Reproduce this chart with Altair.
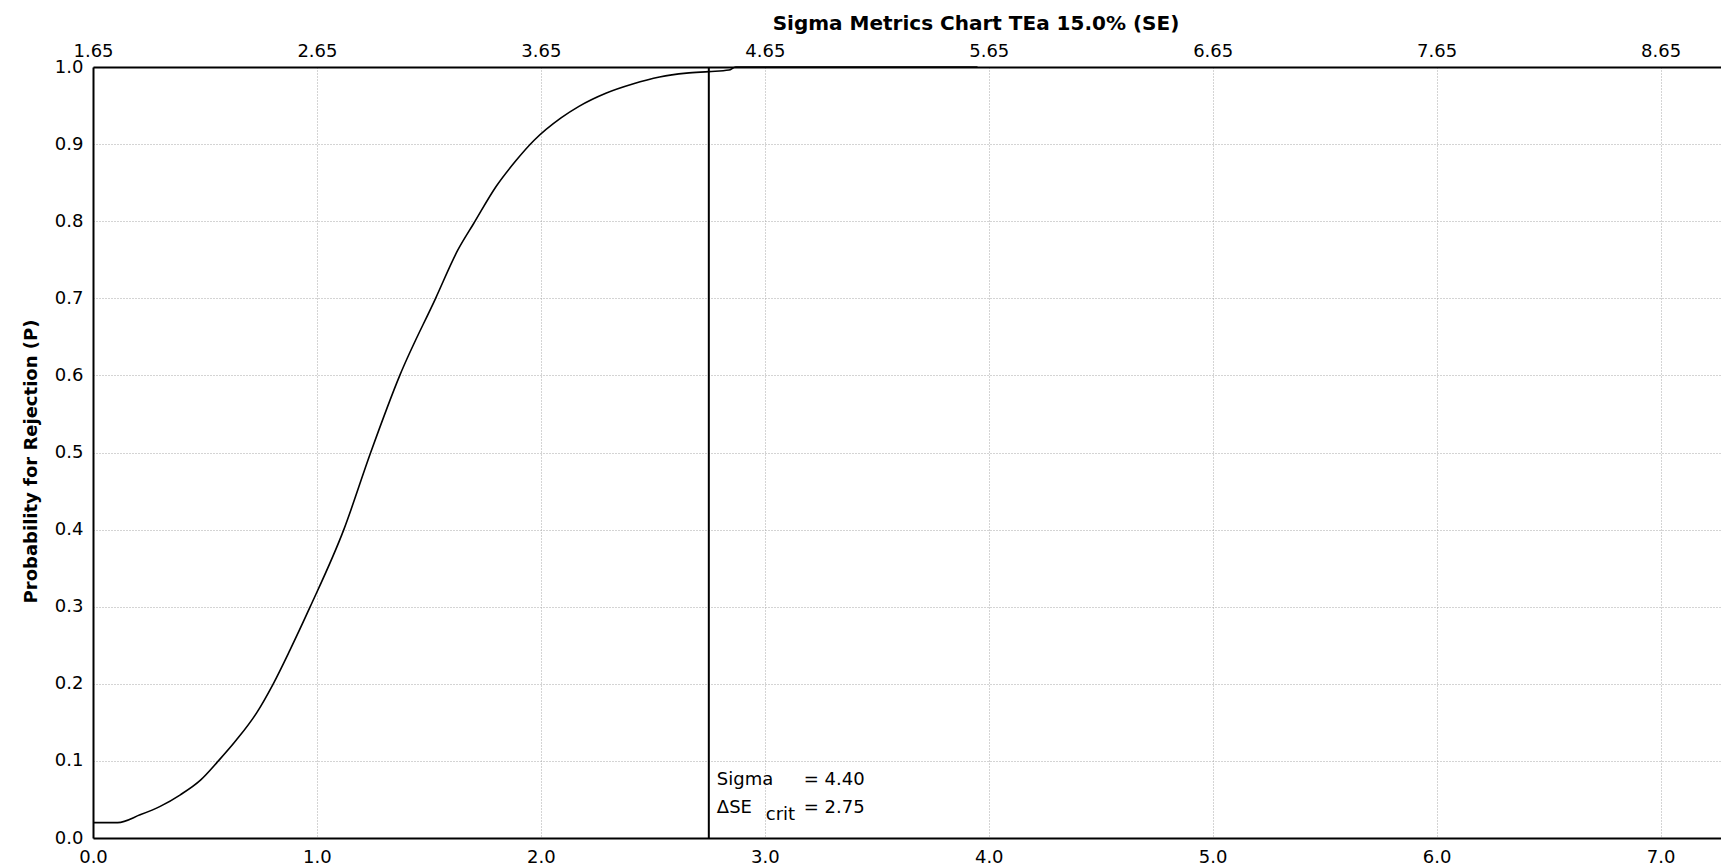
import altair as alt
import pandas as pd

# ---- data ----
delta_se = [0.00, 0.11, 0.21, 0.30, 0.39, 0.48, 0.56, 0.64, 0.73, 0.805, 0.88, 0.97,
            1.12, 1.24, 1.37, 1.53, 1.63, 1.70, 1.80, 1.89,
            1.97, 2.09, 2.17, 2.29, 2.41, 2.53, 2.65, 2.75, 2.84, 2.87, 3.95]
p_reject = [0.020, 0.020, 0.030, 0.041, 0.056, 0.075, 0.100, 0.127, 0.162, 0.200, 0.244, 0.300,
            0.400, 0.500, 0.600, 0.700, 0.763, 0.797, 0.845, 0.879,
            0.905, 0.934, 0.949, 0.966, 0.978, 0.987, 0.992, 0.994, 0.996, 1.000, 1.000]
dse_crit = 2.75
sigma_value = 4.40
sigma_offset = 1.65
x_ticks = [0, 1, 2, 3, 4, 5, 6, 7]
y_ticks = [0.0, 0.1, 0.2, 0.3, 0.4, 0.5, 0.6, 0.7, 0.8, 0.9, 1.0]
title_text = "Sigma Metrics Chart TEa 15.0% (SE)"
y_title = "Probability for Rejection (P)"

FONT = "DejaVu Sans"
xscale = alt.Scale(domain=[0, 7.27], nice=False, zero=False)
yscale = alt.Scale(domain=[0, 1], nice=False, zero=False)

common = dict(ticks=False, tickSize=0, domainColor="black", domainWidth=2,
              labelFont=FONT, labelFontSize=18, labelColor="black",
              labelFlush=False, labelOverlap=False)
grid_style = dict(gridColor="#a8a8a8", gridDash=[1, 2], gridWidth=1)

bottom_axis = alt.Axis(values=x_ticks, labelExpr="format(datum.value, '.1f')", orient="bottom",
                       title=None, grid=True, labelPadding=10, **grid_style, **common)
top_axis = alt.Axis(values=x_ticks, labelExpr=f"format(datum.value + {sigma_offset}, '.2f')",
                    orient="top", title=None, grid=False, labelPadding=7, **common)
left_axis = alt.Axis(values=y_ticks, format=".1f", orient="left", title=y_title,
                     titleFont=FONT, titleFontSize=18, titleFontWeight="bold", titleColor="black",
                     titlePadding=14, titleY=394, grid=True, labelPadding=10,
                     **grid_style, **common)

curve_df = pd.DataFrame({"dse": delta_se, "p": p_reject})
curve = alt.Chart(curve_df).mark_line(color="black", strokeWidth=1.6, interpolate="monotone").encode(
    x=alt.X("dse:Q", scale=xscale, axis=bottom_axis),
    y=alt.Y("p:Q", scale=yscale, axis=left_axis),
    order="dse:Q",
)

rule_df = pd.DataFrame({"dse": [dse_crit]})
rule = alt.Chart(rule_df).mark_rule(color="black", strokeWidth=2).encode(
    x=alt.X("dse:Q", scale=xscale, axis=top_axis),
)

def label(text, ypos, dx, dy=0):
    df = pd.DataFrame({"dse": [dse_crit], "p": [ypos], "t": [text]})
    return alt.Chart(df).mark_text(align="left", baseline="middle", font=FONT, fontSize=18,
                                   color="black", dx=dx, dy=dy).encode(
        x=alt.X("dse:Q", scale=xscale, axis=None),
        y=alt.Y("p:Q", scale=yscale, axis=None),
        text="t:N",
    )

labels = [
    label("Sigma", 0.075, 8),
    label(f"= {sigma_value:.2f}", 0.075, 95),
    label("\u0394SE", 0.039, 8),
    label("crit", 0.039, 57, 7),
    label(f"= {dse_crit:.2f}", 0.039, 95),
]

chart = alt.layer(curve, rule, *labels).resolve_axis(x="independent", y="independent").properties(
    width=1628, height=771,
    title=alt.TitleParams(title_text, font=FONT, fontSize=20, fontWeight="bold", color="black",
                          anchor="middle", dx=69, offset=8),
    autosize=alt.AutoSizeParams(type="none"),
    padding={"left": 85, "top": 59, "right": 0, "bottom": 40},
    background="white",
).configure_view(stroke=None)

chart.save("out.html", embed_options={"renderer": "svg", "actions": False})
